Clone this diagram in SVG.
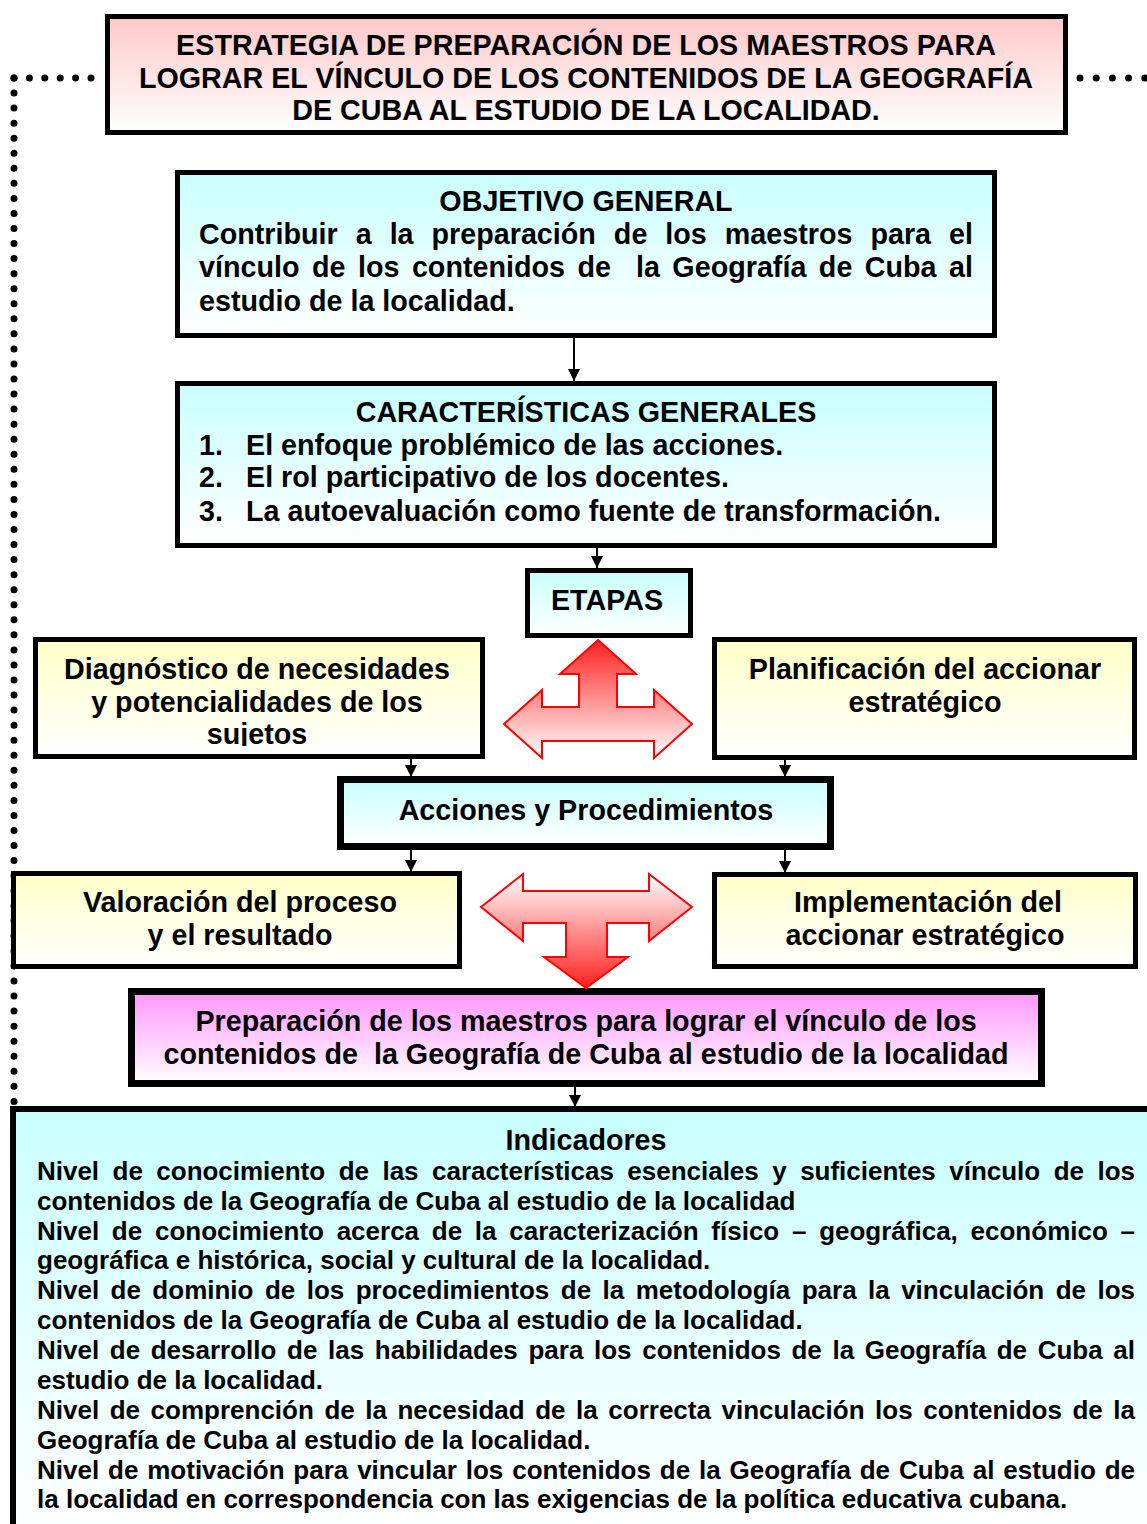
<svg xmlns="http://www.w3.org/2000/svg" width="1147" height="1524" viewBox="0 0 1147 1524">
<defs>
<linearGradient id="gPink" x1="0" y1="0" x2="0" y2="1"><stop offset="0" stop-color="#ffc8c8"/><stop offset="1" stop-color="#ffffff"/></linearGradient>
<linearGradient id="gCyan" x1="0" y1="0" x2="0" y2="1"><stop offset="0" stop-color="#c8ffff"/><stop offset="1" stop-color="#ffffff"/></linearGradient>
<linearGradient id="gYellow" x1="0" y1="0" x2="0" y2="1"><stop offset="0" stop-color="#ffffc8"/><stop offset="1" stop-color="#ffffff"/></linearGradient>
<linearGradient id="gMag" x1="0" y1="0" x2="0" y2="1"><stop offset="0" stop-color="#ff96ff"/><stop offset="1" stop-color="#ffffff"/></linearGradient>
<linearGradient id="gRedUp" x1="0" y1="0" x2="0" y2="1"><stop offset="0" stop-color="#ff2020"/><stop offset="1" stop-color="#ffffff"/></linearGradient>
<linearGradient id="gRedDown" x1="0" y1="0" x2="0" y2="1"><stop offset="0" stop-color="#ffffff"/><stop offset="1" stop-color="#ff2020"/></linearGradient>
<marker id="arr" markerWidth="12" markerHeight="12" refX="12" refY="6" orient="auto" markerUnits="userSpaceOnUse"><path d="M0,0 L12,6 L0,12 Z" fill="#000"/></marker>
<clipPath id="clipDiag"><rect x="38" y="642" width="442" height="104"/></clipPath>
</defs>
<style>
.box{stroke:#000;stroke-width:5}
.thick{stroke-width:7}
text{font-family:"Liberation Sans",Arial,sans-serif;font-weight:bold;fill:#000}
.t28{font-size:28.7px}
.t26{font-size:26px}
.c{text-anchor:middle}
.dots{stroke:#000;stroke-width:7;stroke-linecap:round;fill:none}
.con{stroke:#000;stroke-width:2;fill:none}
.big{stroke:#ff0000;stroke-width:2}
</style>

<g id="dotted-frame">
<line class="dots" x1="14" y1="78" x2="100" y2="78" stroke-dasharray="0 15.4"/>
<line class="dots" x1="14" y1="78" x2="14" y2="1102" stroke-dasharray="0 15.05"/>
<line class="dots" x1="1080" y1="78" x2="1147" y2="78" stroke-dasharray="0 16.2"/>
</g>

<g id="title">
<rect class="box" x="107.5" y="16.5" width="958" height="116" fill="url(#gPink)"/>
<text class="t28 c" x="586" y="55">ESTRATEGIA DE PREPARACIÓN DE LOS MAESTROS PARA</text>
<text class="t28 c" x="586" y="88">LOGRAR EL VÍNCULO DE LOS CONTENIDOS DE LA GEOGRAFÍA</text>
<text class="t28 c" x="586" y="120">DE CUBA AL ESTUDIO DE LA LOCALIDAD.</text>
</g>

<g id="objetivo">
<rect class="box" x="177.5" y="172.5" width="817" height="163" fill="url(#gCyan)"/>
<text class="t28 c" x="586" y="211">OBJETIVO GENERAL</text>
<text class="t28" x="199" y="244" word-spacing="10" textLength="774" lengthAdjust="spacing">Contribuir a la preparación de los maestros para el</text>
<text class="t28" x="199" y="277" word-spacing="4.5" textLength="774" lengthAdjust="spacing">vínculo de los contenidos de&#160; la Geografía de Cuba al</text>
<text class="t28" x="199" y="311">estudio de la localidad.</text>
</g>

<g id="caracteristicas">
<rect class="box" x="177.5" y="383.5" width="817" height="162" fill="url(#gCyan)"/>
<text class="t28 c" x="586" y="422">CARACTERÍSTICAS GENERALES</text>
<text class="t28" x="199" y="455">1.</text>
<text class="t28" x="246" y="455">El enfoque problémico de las acciones.</text>
<text class="t28" x="199" y="487">2.</text>
<text class="t28" x="246" y="487">El rol participativo de los docentes.</text>
<text class="t28" x="199" y="521">3.</text>
<text class="t28" x="246" y="521">La autoevaluación como fuente de transformación.</text>
</g>

<g id="etapas">
<rect class="box" x="527.5" y="570.5" width="163" height="65" fill="url(#gCyan)"/>
<text class="t28 c" x="607" y="610">ETAPAS</text>
</g>

<g id="diagnostico">
<rect class="box" x="35.5" y="639.5" width="447" height="117" fill="url(#gYellow)"/>
<g clip-path="url(#clipDiag)">
<text class="t28 c" x="257" y="679">Diagnóstico de necesidades</text>
<text class="t28 c" x="257" y="712">y potencialidades de los</text>
<text class="t28 c" x="257" y="744">sujetos</text>
</g>
</g>

<g id="planificacion">
<rect class="box" x="714.5" y="639.5" width="420" height="118" fill="url(#gYellow)"/>
<text class="t28 c" x="925" y="679">Planificación del accionar</text>
<text class="t28 c" x="925" y="712">estratégico</text>
</g>

<g id="acciones">
<rect class="box thick" x="340.5" y="779.5" width="490" height="67" fill="url(#gCyan)"/>
<text class="t28 c" x="586" y="820">Acciones y Procedimientos</text>
</g>

<g id="valoracion">
<rect class="box" x="13.5" y="873.5" width="446" height="93" fill="url(#gYellow)"/>
<text class="t28 c" x="240" y="912">Valoración del proceso</text>
<text class="t28 c" x="240" y="945">y el resultado</text>
</g>

<g id="implementacion">
<rect class="box" x="714.5" y="874.5" width="421" height="92" fill="url(#gYellow)"/>
<text class="t28 c" x="928" y="912">Implementación del</text>
<text class="t28 c" x="925" y="945">accionar estratégico</text>
</g>

<g id="preparacion">
<rect class="box thick" x="131.5" y="991.5" width="910" height="92" fill="url(#gMag)"/>
<text class="t28 c" x="586" y="1031">Preparación de los maestros para lograr el vínculo de los</text>
<text class="t28 c" x="586" y="1064">contenidos de&#160; la Geografía de Cuba al estudio de la localidad</text>
</g>

<g id="indicadores">
<rect class="box" x="13" y="1109" width="1200" height="420" fill="url(#gCyan)" style="stroke-width:6"/>
<text class="t28 c" x="586" y="1150">Indicadores</text>
<text class="t26" x="37" y="1180" word-spacing="6.3" textLength="1098" lengthAdjust="spacing">Nivel de conocimiento de las características esenciales y suficientes vínculo de los</text>
<text class="t26" x="37" y="1210">contenidos de la Geografía de Cuba al estudio de la localidad</text>
<text class="t26" x="37" y="1240" word-spacing="5.5" textLength="1098" lengthAdjust="spacing">Nivel de conocimiento acerca de la caracterización físico – geográfica, económico –</text>
<text class="t26" x="37" y="1269">geográfica e histórica, social y cultural de la localidad.</text>
<text class="t26" x="37" y="1299" word-spacing="4.2" textLength="1098" lengthAdjust="spacing">Nivel de dominio de los procedimientos de la metodología para la vinculación de los</text>
<text class="t26" x="37" y="1329">contenidos de la Geografía de Cuba al estudio de la localidad.</text>
<text class="t26" x="37" y="1359" word-spacing="3.4" textLength="1098" lengthAdjust="spacing">Nivel de desarrollo de las habilidades para los contenidos de la Geografía de Cuba al</text>
<text class="t26" x="37" y="1389">estudio de la localidad.</text>
<text class="t26" x="37" y="1419" word-spacing="3.3" textLength="1098" lengthAdjust="spacing">Nivel de comprención de la necesidad de la correcta vinculación los contenidos de la</text>
<text class="t26" x="37" y="1449">Geografía de Cuba al estudio de la localidad.</text>
<text class="t26" x="37" y="1479" word-spacing="1.6" textLength="1098" lengthAdjust="spacing">Nivel de motivación para vincular los contenidos de la Geografía de Cuba al estudio de</text>
<text class="t26" x="37" y="1508">la localidad en correspondencia con las exigencias de la política educativa cubana.</text>
</g>

<g id="big-arrow-up">
<polygon class="big" fill="url(#gRedUp)" points="598,640 636,674 617,674 617,707 654,707 654,690 692,724 654,758 654,741 542,741 542,758 504,724 542,690 542,707 579,707 579,674 560,674"/>
</g>
<g id="big-arrow-down">
<polygon class="big" fill="url(#gRedDown)" points="481,907 523,874 523,891 649,891 649,874 692,907 649,941 649,923 607,923 607,957 628,957 586,988 544,957 566,957 566,923 523,923 523,941"/>
</g>

<g id="connectors">
<line class="con" x1="574" y1="338" x2="574" y2="381" marker-end="url(#arr)"/>
<line class="con" x1="597" y1="548" x2="597" y2="568" marker-end="url(#arr)"/>
<line class="con" x1="411" y1="759" x2="411" y2="777" marker-end="url(#arr)"/>
<line class="con" x1="785" y1="760" x2="785" y2="777" marker-end="url(#arr)"/>
<line class="con" x1="411" y1="850" x2="411" y2="872" marker-end="url(#arr)"/>
<line class="con" x1="785" y1="850" x2="785" y2="873" marker-end="url(#arr)"/>
<line class="con" x1="575" y1="1087" x2="575" y2="1107" marker-end="url(#arr)"/>
</g>
</svg>
